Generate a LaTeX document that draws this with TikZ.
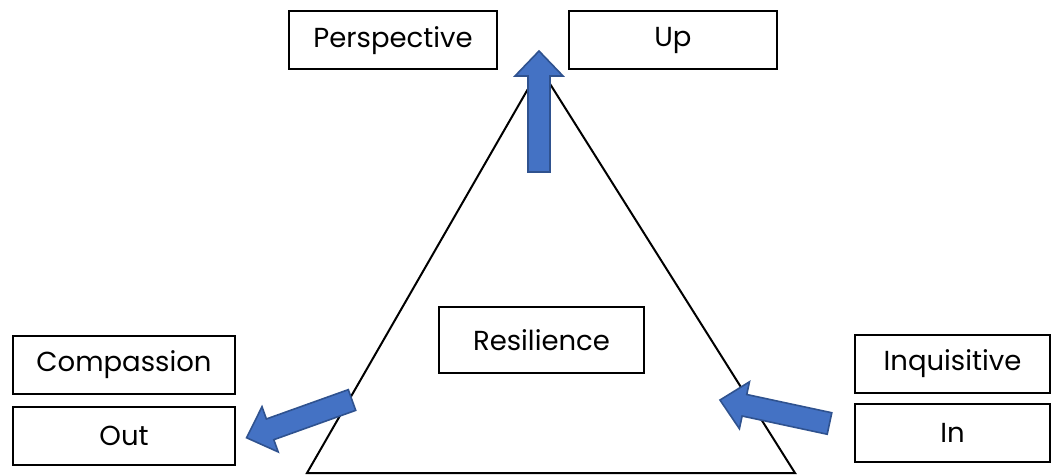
\documentclass[tikz,border=0pt]{standalone}
\usepackage{fontspec}
\setmainfont{Poppins}
\usetikzlibrary{positioning}
\definecolor{arrowblue}{HTML}{4472C4}
\definecolor{arrowedge}{HTML}{2F528F}
\tikzstyle{label} = [rectangle,
minimum height=58pt,
text centered,
line width=2pt,
draw=black,
font=\fontsize{27.5}{32}\selectfont]
\tikzstyle{arrowfill} = [fill=arrowblue, draw=arrowedge, line width=1.6pt, line join=miter]
\tikzset{
  blockarrow/.pic={
    \draw[arrowfill] (0,-11) -- (#1-25,-11) -- (#1-25,-24) -- (#1,0)
      -- (#1-25,24) -- (#1-25,11) -- (0,11) -- cycle;
  }
}

\begin{document}
\begin{tikzpicture}[x=1pt, y=1pt]
        \useasboundingbox (0,0) rectangle (1054,475);
        % triangle
        \coordinate (apex) at (540,407);
        \coordinate (baseL) at (307,2);
        \coordinate (baseR) at (795,2);
        \draw[line width=2pt, line join=miter] (apex) -- (baseL) -- (baseR) -- cycle;

        % boxes
        \node (perspective) [label, minimum width=208pt] at (393,434.5) {Perspective};
        \node (up) [label, minimum width=208pt] at (673,434.5) {Up};
        \node (resilience) [label, minimum width=205pt, minimum height=66pt] at (541.5,135) {Resilience};
        \node (compassion) [label, minimum width=222pt] at (124,110.5) {Compassion};
        \node (out) [label, minimum width=222pt] at (124,39) {Out};
        \node (inquisitive) [label, minimum width=195pt] at (952.5,111) {Inquisitive};
        \node (in) [label, minimum width=195pt] at (952.5,42.5) {In};

        % block arrows
        \pic[rotate=90] at (539,303) {blockarrow=121};
        \pic[rotate=199.7] at (352,75) {blockarrow=112};
        \pic[rotate=167.9] at (829.5,51.5) {blockarrow=112};
    \end{tikzpicture}
\end{document}
